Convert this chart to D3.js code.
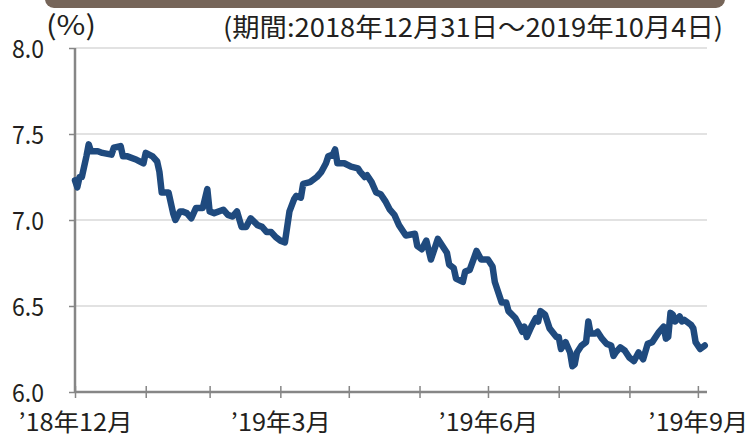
<!DOCTYPE html>
<html><head><meta charset="utf-8">
<script src="https://cdn.jsdelivr.net/npm/d3@7"></script>
<style>
html,body{margin:0;padding:0;background:#fff;}
svg{display:block;}
text{font-family:"Liberation Sans Narrow","Noto Sans CJK JP",sans-serif;fill:#231f20;}
</style></head>
<body>
<svg id="chart" width="745" height="437"></svg>
<script>
const dates = ["2018-12-31","2019-01-01","2019-01-02","2019-01-03","2019-01-05","2019-01-06","2019-01-07","2019-01-10","2019-01-12","2019-01-16","2019-01-17","2019-01-20","2019-01-21","2019-01-23","2019-01-27","2019-01-30","2019-01-31","2019-02-03","2019-02-05","2019-02-06","2019-02-07","2019-02-10","2019-02-12","2019-02-13","2019-02-15","2019-02-16","2019-02-18","2019-02-20","2019-02-22","2019-02-25","2019-02-27","2019-02-28","2019-03-02","2019-03-06","2019-03-08","2019-03-10","2019-03-12","2019-03-14","2019-03-16","2019-03-18","2019-03-21","2019-03-23","2019-03-25","2019-03-27","2019-03-29","2019-03-31","2019-04-02","2019-04-04","2019-04-06","2019-04-07","2019-04-09","2019-04-10","2019-04-13","2019-04-16","2019-04-18","2019-04-20","2019-04-21","2019-04-23","2019-04-24","2019-04-25","2019-04-28","2019-05-01","2019-05-04","2019-05-05","2019-05-07","2019-05-08","2019-05-10","2019-05-12","2019-05-14","2019-05-16","2019-05-18","2019-05-20","2019-05-22","2019-05-25","2019-05-29","2019-05-30","2019-06-01","2019-06-03","2019-06-05","2019-06-06","2019-06-08","2019-06-12","2019-06-13","2019-06-15","2019-06-16","2019-06-19","2019-06-20","2019-06-22","2019-06-25","2019-06-27","2019-06-29","2019-06-30","2019-07-02","2019-07-03","2019-07-06","2019-07-08","2019-07-09","2019-07-12","2019-07-14","2019-07-15","2019-07-16","2019-07-17","2019-07-19","2019-07-21","2019-07-22","2019-07-23","2019-07-25","2019-07-27","2019-07-30","2019-07-31","2019-08-01","2019-08-02","2019-08-03","2019-08-05","2019-08-06","2019-08-07","2019-08-08","2019-08-10","2019-08-12","2019-08-13","2019-08-14","2019-08-16","2019-08-17","2019-08-19","2019-08-21","2019-08-23","2019-08-24","2019-08-25","2019-08-27","2019-08-29","2019-08-31","2019-09-02","2019-09-04","2019-09-06","2019-09-08","2019-09-10","2019-09-13","2019-09-15","2019-09-16","2019-09-17","2019-09-18","2019-09-19","2019-09-20","2019-09-22","2019-09-23","2019-09-24","2019-09-27","2019-09-28","2019-09-29","2019-10-01","2019-10-03"];
const values = [7.23,7.19,7.25,7.25,7.37,7.44,7.40,7.40,7.39,7.38,7.42,7.43,7.37,7.37,7.35,7.33,7.39,7.37,7.34,7.28,7.16,7.16,7.04,7.00,7.05,7.05,7.04,7.01,7.07,7.07,7.18,7.05,7.04,7.06,7.03,7.02,7.05,6.96,6.96,7.01,6.97,6.96,6.93,6.93,6.90,6.88,6.87,7.05,7.12,7.14,7.13,7.21,7.22,7.25,7.28,7.33,7.37,7.38,7.41,7.33,7.33,7.31,7.30,7.28,7.25,7.26,7.22,7.16,7.15,7.11,7.06,7.03,6.97,6.91,6.92,6.85,6.83,6.88,6.77,6.81,6.89,6.81,6.74,6.72,6.66,6.64,6.70,6.71,6.82,6.77,6.77,6.77,6.73,6.64,6.52,6.52,6.47,6.43,6.38,6.35,6.38,6.32,6.38,6.43,6.41,6.47,6.45,6.37,6.32,6.32,6.25,6.27,6.29,6.23,6.15,6.16,6.23,6.27,6.29,6.41,6.34,6.34,6.35,6.31,6.28,6.27,6.21,6.23,6.26,6.24,6.20,6.18,6.23,6.19,6.28,6.29,6.35,6.38,6.31,6.32,6.46,6.45,6.41,6.44,6.41,6.42,6.39,6.37,6.29,6.25,6.27];
const xTickDates = ["2018-12-31","2019-01-31","2019-02-28","2019-03-31","2019-04-30","2019-05-31","2019-06-30","2019-07-31","2019-08-31","2019-09-30"];
const xTickLabels = ["’18年12月","","","’19年3月","","","’19年6月","","","’19年9月"];
const yTicks = [6.0,6.5,7.0,7.5,8.0];
const domainDates = ["2018-12-31","2019-10-04"];
const unitLabel = "(%)";
const periodLabel = "(期間:2018年12月31日～2019年10月4日)";

const parse = d3.timeParse("%Y-%m-%d");
const data = dates.map((d,i)=>({date:parse(d), value:values[i]}));
const svg = d3.select("#chart");

// banner at top
svg.append("rect").attr("x",45).attr("y",-14).attr("width",680).attr("height",22)
  .attr("rx",9).attr("fill","#766559");

const x = d3.scaleTime().domain(domainDates.map(parse)).range([75,707]);
const y = d3.scaleLinear().domain([6,8]).range([392,48]);

// gridlines
svg.append("g").selectAll("line").data(yTicks.slice(1)).join("line")
  .attr("x1",75).attr("x2",707).attr("y1",d=>y(d)).attr("y2",d=>y(d))
  .attr("stroke","#d9d9d9").attr("stroke-width",1.5);

// y axis
const yAxis = svg.append("g").attr("transform","translate(75,0)")
  .call(d3.axisLeft(y).tickValues(yTicks).tickFormat(d3.format(".1f")).tickSize(6).tickPadding(25));
yAxis.select(".domain").attr("stroke","#868686").attr("stroke-width",2.5).attr("d","M0,392V48");
yAxis.selectAll(".tick line").attr("stroke","#868686").attr("stroke-width",1.5);
yAxis.selectAll(".tick text").attr("font-size",25).attr("dy","0.36em")
  .attr("textLength",32).attr("lengthAdjust","spacingAndGlyphs").style("fill","#231f20")
  .style("font-family","'Liberation Sans Narrow','Noto Sans CJK JP',sans-serif");

// x axis
const labelMap = new Map(xTickDates.map((d,i)=>[+parse(d), xTickLabels[i]]));
const xAxis = svg.append("g").attr("transform","translate(0,392)")
  .call(d3.axisBottom(x).tickValues(xTickDates.map(parse)).tickFormat(d=>labelMap.get(+d)).tickSize(6).tickPadding(16));
xAxis.select(".domain").attr("stroke","#868686").attr("stroke-width",2.5).attr("d","M75,0H707");
xAxis.selectAll(".tick line").attr("stroke","#868686").attr("stroke-width",1.5).attr("y1",-6).attr("y2",6);
xAxis.selectAll(".tick text").attr("font-size",24).attr("dy","0.71em")
  .style("fill","#231f20")
  .style("font-family","'Liberation Sans Narrow','Noto Sans CJK JP',sans-serif")
  .each(function(d){
    const t = labelMap.get(+d);
    if(t) d3.select(this).attr("textLength", t.length>6 ? 114 : 100).attr("lengthAdjust","spacingAndGlyphs");
  });

// line
svg.append("path").datum(data)
  .attr("fill","none").attr("stroke","#1f4a7e").attr("stroke-width",6.5)
  .attr("stroke-linejoin","round").attr("stroke-linecap","round")
  .attr("d", d3.line().x(d=>x(d.date)).y(d=>y(d.value)));

// labels
svg.append("text").attr("x",46).attr("y",35).attr("font-size",27)
  .attr("textLength",50).attr("lengthAdjust","spacingAndGlyphs").text(unitLabel);
svg.append("text").attr("x",723).attr("y",37).attr("font-size",26).attr("text-anchor","end")
  .attr("textLength",500).attr("lengthAdjust","spacingAndGlyphs").text(periodLabel);
</script>
</body></html>
